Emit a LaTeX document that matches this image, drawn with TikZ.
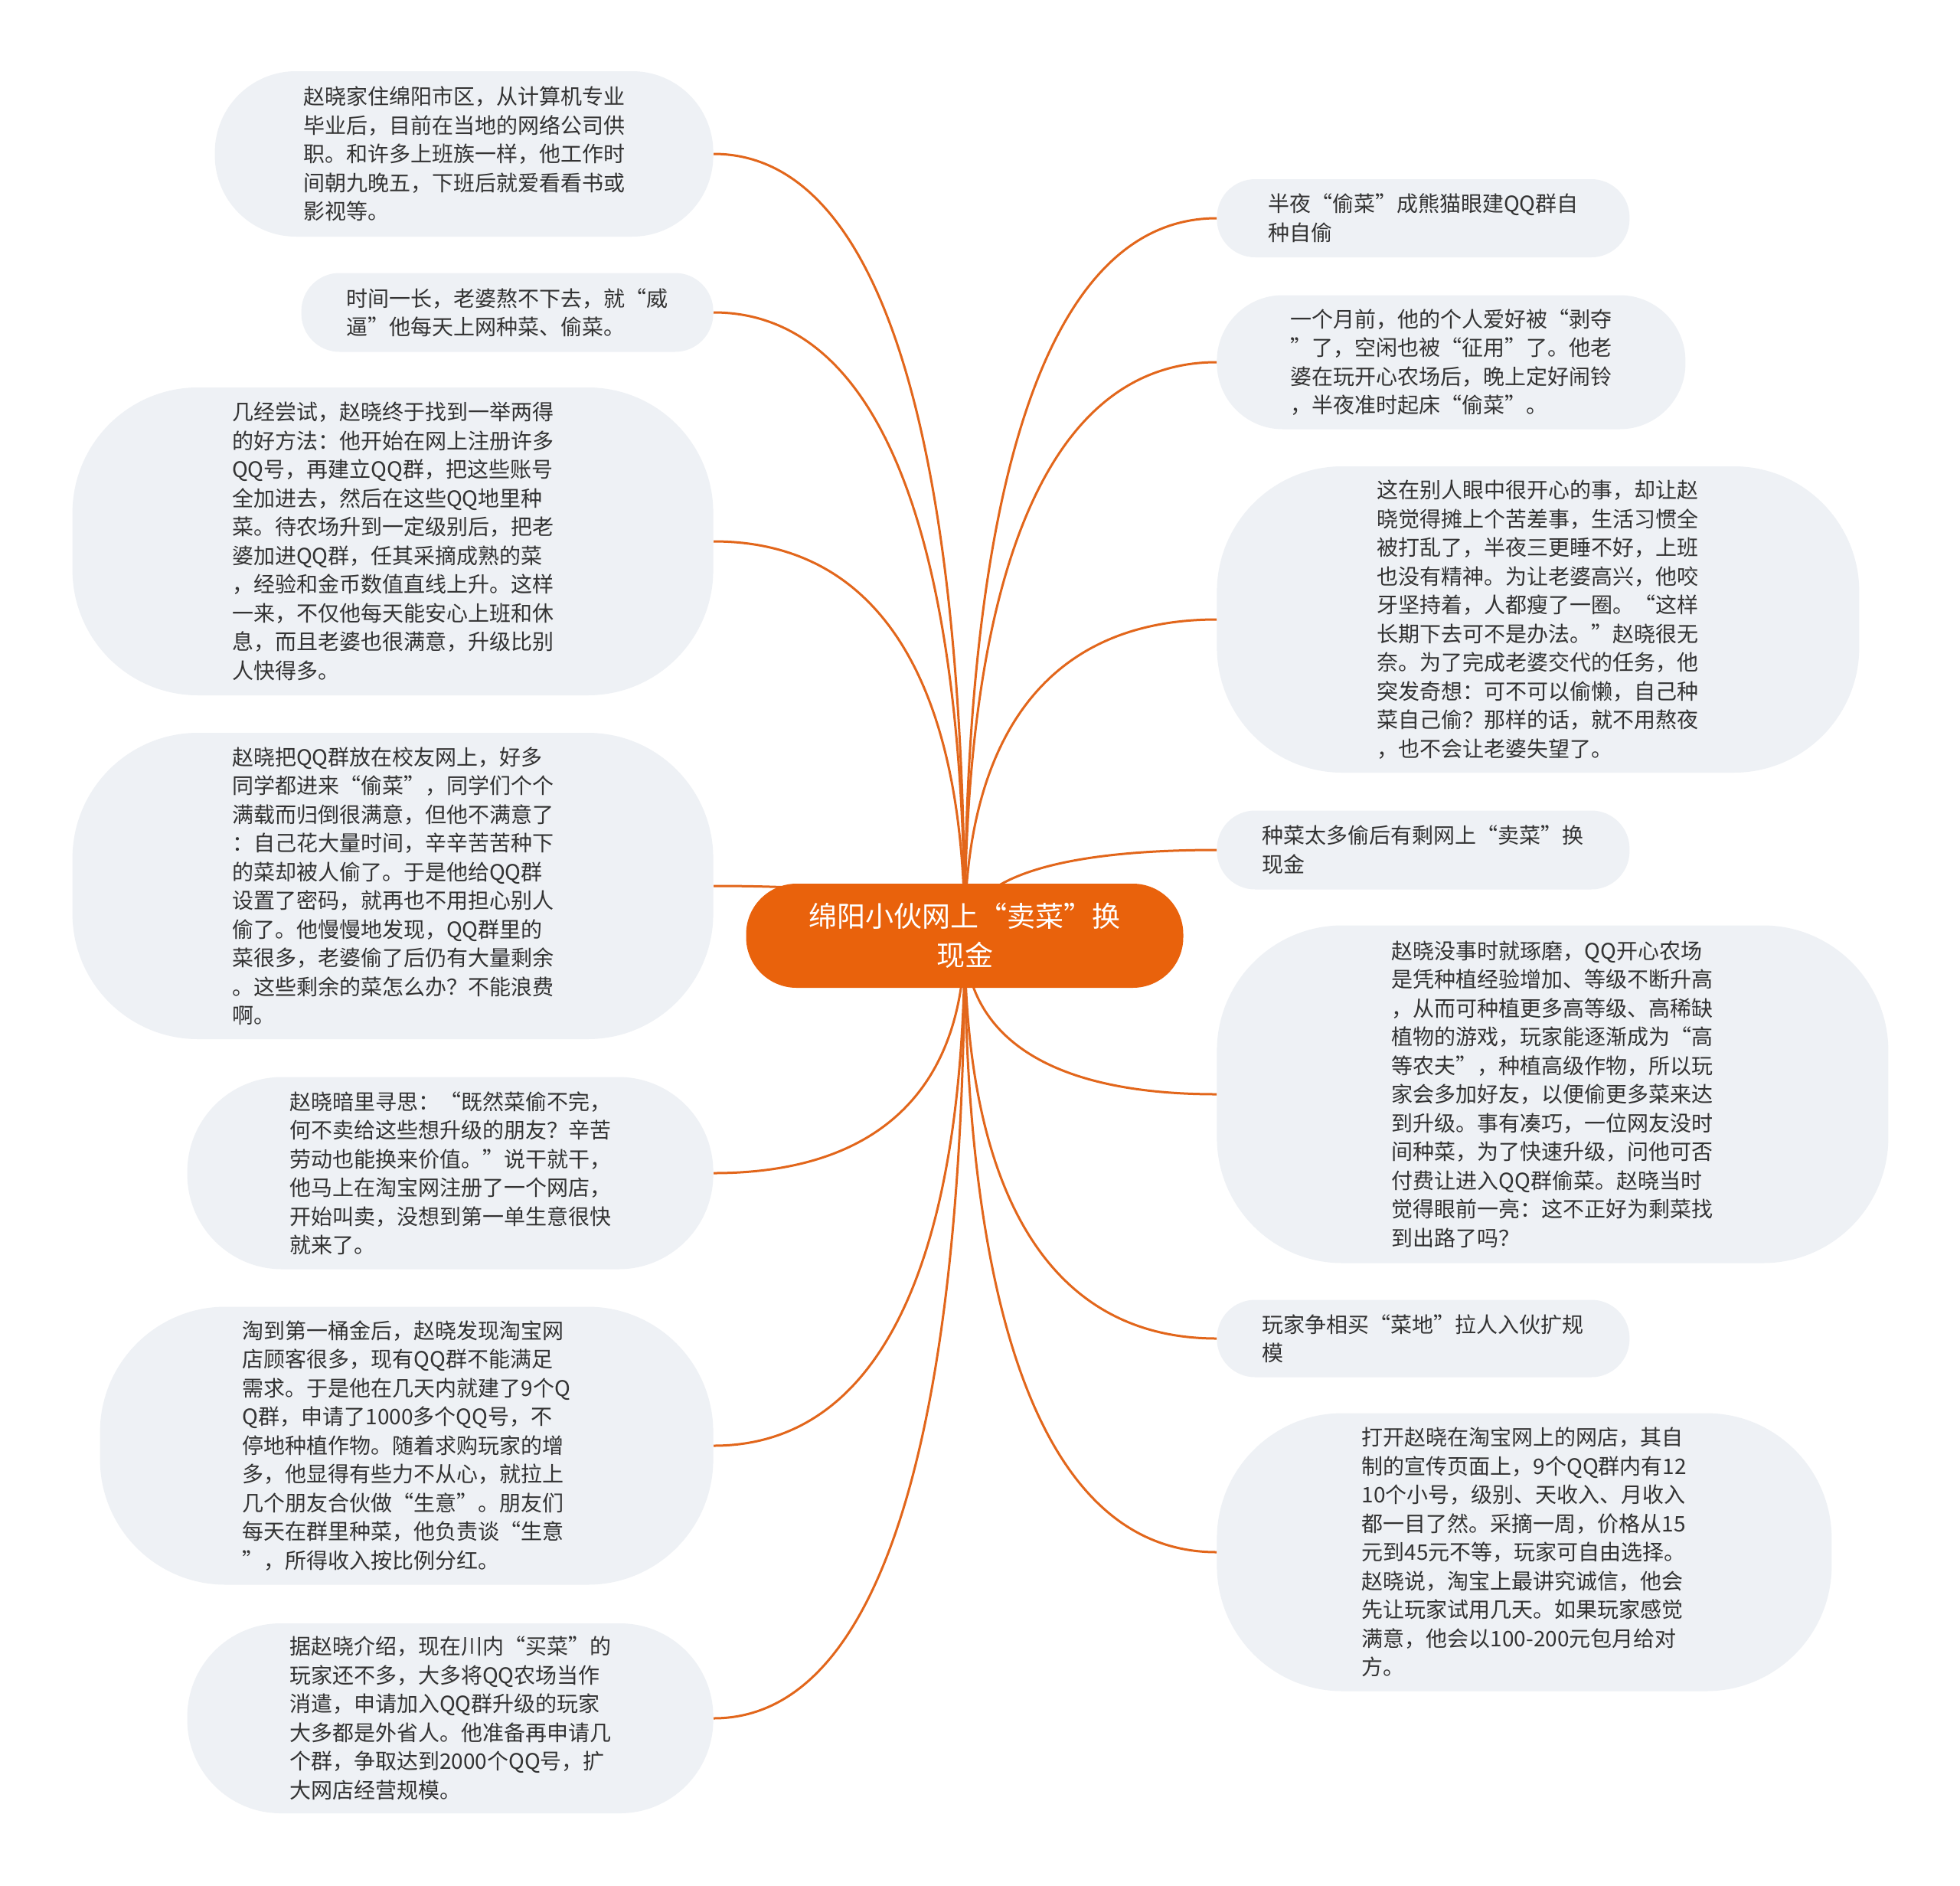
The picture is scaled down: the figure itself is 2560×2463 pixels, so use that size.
\documentclass[tikz,border=0pt]{standalone}
\usepackage{fontspec}
\setmainfont{Noto Sans CJK SC}
\usetikzlibrary{calc, positioning}

\definecolor{rootorange}{HTML}{E9620C}
\definecolor{linkorange}{HTML}{E2661B}
\definecolor{leafgray}{HTML}{EEF1F5}
\definecolor{inkgray}{HTML}{333333}

\begin{document}
\begin{tikzpicture}[x=0.5pt, y=-0.5pt,
    leaf/.style={fill=leafgray, text=inkgray, align=left, inner sep=0pt, font=\fontsize{14pt}{18.75pt}\selectfont},
    main/.style={fill=rootorange, text=white, align=center, inner sep=0pt, font=\fontsize{18.5pt}{25.3pt}\selectfont},
    link/.style={linkorange, line width=1.5pt},
    branch/.style={to path={.. controls ($(\tikztostart)!0.6!(\tikztostart |- \tikztotarget)$) and ($(\tikztotarget)!0.7!(\tikztostart |- \tikztotarget)$) .. (\tikztotarget)}},
]
  \fill[white] (0,0) rectangle (2560,2463);
  \useasboundingbox (0,0) rectangle (2560,2463);

  \coordinate (hub) at (1260,1222);

  % left column
  \node[leaf, anchor=east, minimum width=325.5pt, minimum height=108pt, rounded corners=53pt] (l1) at (932,201) {
    赵晓家住绵阳市区，从计算机专业\\
    毕业后，目前在当地的网络公司供\\
    职。和许多上班族一样，他工作时\\
    间朝九晚五，下班后就爱看看书或\\
    影视等。};
  \node[leaf, anchor=east, minimum width=269pt, minimum height=51.5pt, rounded corners=25pt] (l2) at (932,408) {
    时间一长，老婆熬不下去，就“威\\
    逼”他每天上网种菜、偷菜。};
  \node[leaf, anchor=east, minimum width=418.5pt, minimum height=201pt, rounded corners=82pt] (l3) at (932,707) {
    几经尝试，赵晓终于找到一举两得\\
    的好方法：他开始在网上注册许多\\
    QQ号，再建立QQ群，把这些账号\\
    全加进去，然后在这些QQ地里种\\
    菜。待农场升到一定级别后，把老\\
    婆加进QQ群，任其采摘成熟的菜\\
    ，经验和金币数值直线上升。这样\\
    一来，不仅他每天能安心上班和休\\
    息，而且老婆也很满意，升级比别\\
    人快得多。};
  \node[leaf, anchor=east, minimum width=418.5pt, minimum height=200pt, rounded corners=82pt] (l4) at (932,1157) {
    赵晓把QQ群放在校友网上，好多\\
    同学都进来“偷菜”，同学们个个\\
    满载而归倒很满意，但他不满意了\\
    ：自己花大量时间，辛辛苦苦种下\\
    的菜却被人偷了。于是他给QQ群\\
    设置了密码，就再也不用担心别人\\
    偷了。他慢慢地发现，QQ群里的\\
    菜很多，老婆偷了后仍有大量剩余\\
    。这些剩余的菜怎么办？不能浪费\\
    啊。};
  \node[leaf, anchor=east, minimum width=343.5pt, minimum height=125.5pt, rounded corners=62pt] (l5) at (932,1532) {
    赵晓暗里寻思：“既然菜偷不完，\\
    何不卖给这些想升级的朋友？辛苦\\
    劳动也能换来价值。”说干就干，\\
    他马上在淘宝网注册了一个网店，\\
    开始叫卖，没想到第一单生意很快\\
    就来了。};
  \node[leaf, anchor=east, minimum width=400.5pt, minimum height=181.5pt, rounded corners=82pt] (l6) at (932,1888) {
    淘到第一桶金后，赵晓发现淘宝网\\
    店顾客很多，现有QQ群不能满足\\
    需求。于是他在几天内就建了9个Q\\
    Q群，申请了1000多个QQ号，不\\
    停地种植作物。随着求购玩家的增\\
    多，他显得有些力不从心，就拉上\\
    几个朋友合伙做“生意”。朋友们\\
    每天在群里种菜，他负责谈“生意\\
    ”，所得收入按比例分红。};
  \node[leaf, anchor=east, minimum width=343.5pt, minimum height=124pt, rounded corners=61pt] (l7) at (932,2244) {
    据赵晓介绍，现在川内“买菜”的\\
    玩家还不多，大多将QQ农场当作\\
    消遣，申请加入QQ群升级的玩家\\
    大多都是外省人。他准备再申请几\\
    个群，争取达到2000个QQ号，扩\\
    大网店经营规模。};

  % right column
  \node[leaf, anchor=west, minimum width=269.5pt, minimum height=51pt, rounded corners=25pt] (r1) at (1589,285) {
    半夜“偷菜”成熊猫眼建QQ群自\\
    种自偷};
  \node[leaf, anchor=west, minimum width=306pt, minimum height=87.5pt, rounded corners=43pt] (r2) at (1589,473) {
    一个月前，他的个人爱好被“剥夺\\
    ”了，空闲也被“征用”了。他老\\
    婆在玩开心农场后，晚上定好闹铃\\
    ，半夜准时起床“偷菜”。};
  \node[leaf, anchor=west, minimum width=419.5pt, minimum height=200pt, rounded corners=82pt] (r3) at (1589,809) {
    这在别人眼中很开心的事，却让赵\\
    晓觉得摊上个苦差事，生活习惯全\\
    被打乱了，半夜三更睡不好，上班\\
    也没有精神。为让老婆高兴，他咬\\
    牙坚持着，人都瘦了一圈。“这样\\
    长期下去可不是办法。”赵晓很无\\
    奈。为了完成老婆交代的任务，他\\
    突发奇想：可不可以偷懒，自己种\\
    菜自己偷？那样的话，就不用熬夜\\
    ，也不会让老婆失望了。};
  \node[leaf, anchor=west, minimum width=269.5pt, minimum height=51.5pt, rounded corners=25pt] (r4) at (1589,1110) {
    种菜太多偷后有剩网上“卖菜”换\\
    现金};
  \node[leaf, anchor=west, minimum width=438.5pt, minimum height=220.5pt, rounded corners=82pt] (r5) at (1589,1429) {
    赵晓没事时就琢磨，QQ开心农场\\
    是凭种植经验增加、等级不断升高\\
    ，从而可种植更多高等级、高稀缺\\
    植物的游戏，玩家能逐渐成为“高\\
    等农夫”，种植高级作物，所以玩\\
    家会多加好友，以便偷更多菜来达\\
    到升级。事有凑巧，一位网友没时\\
    间种菜，为了快速升级，问他可否\\
    付费让进入QQ群偷菜。赵晓当时\\
    觉得眼前一亮：这不正好为剩菜找\\
    到出路了吗？};
  \node[leaf, anchor=west, minimum width=269.5pt, minimum height=50.5pt, rounded corners=25pt] (r6) at (1589,1748) {
    玩家争相买“菜地”拉人入伙扩规\\
    模};
  \node[leaf, anchor=west, minimum width=401.5pt, minimum height=181.5pt, rounded corners=82pt] (r7) at (1589,2027) {
    打开赵晓在淘宝网上的网店，其自\\
    制的宣传页面上，9个QQ群内有12\\
    10个小号，级别、天收入、月收入\\
    都一目了然。采摘一周，价格从15\\
    元到45元不等，玩家可自由选择。\\
    赵晓说，淘宝上最讲究诚信，他会\\
    先让玩家试用几天。如果玩家感觉\\
    满意，他会以100-200元包月给对\\
    方。};

  % branches, drawn under the root
  \foreach \leafname/\side in {l1/east, l2/east, l3/east, l4/east, l5/east, l6/east, l7/east,
                               r1/west, r2/west, r3/west, r4/west, r5/west, r6/west, r7/west}
    \draw[link] (hub) to[branch] (\leafname.\side);

  \node[main, minimum width=285.5pt, minimum height=68pt, rounded corners=33pt] (root) at (hub) {
    绵阳小伙网上“卖菜”换\\
    现金};
\end{tikzpicture}
\end{document}
